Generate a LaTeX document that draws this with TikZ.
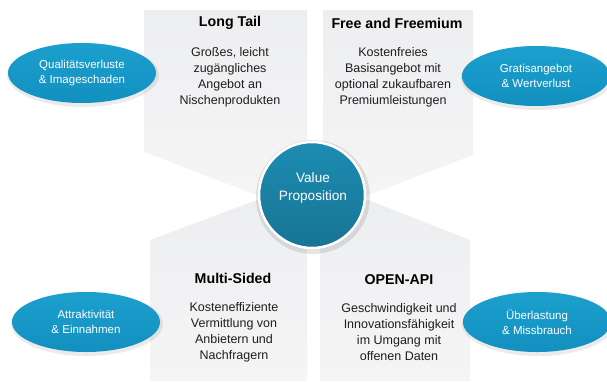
\documentclass[tikz,border=0pt]{standalone}
\usepackage{fontspec}
\setmainfont{Liberation Sans}
\usetikzlibrary{shapes.geometric}
\definecolor{panelTop}{RGB}{237,238,240}
\definecolor{panelBot}{RGB}{245,245,246}
\definecolor{ellTop}{RGB}{28,160,206}
\definecolor{ellBot}{RGB}{18,144,192}
\definecolor{circTop}{RGB}{28,140,178}
\definecolor{circBot}{RGB}{24,116,148}
\definecolor{bodyText}{RGB}{30,30,30}
\tikzset{
  panel/.style={top color=panelTop, bottom color=panelBot, draw=none},
  riskell/.style={ellipse, minimum width=148pt, minimum height=60pt, inner sep=0pt,
    top color=ellTop, bottom color=ellBot, draw=none, text=white, align=center,
    font=\fontsize{11.5}{15}\selectfont},
  glow/.style={ellipse, minimum width=152pt, minimum height=64pt, fill=black, opacity=0.08, draw=none},
  ptitle/.style={font=\fontsize{14.2}{17}\selectfont\bfseries, text=black},
  pbody/.style={align=center, font=\fontsize{12.5}{16}\selectfont, text=bodyText},
  core/.style={circle, minimum size=106pt, inner sep=0pt, top color=circTop, bottom color=circBot,
    draw=white, line width=2.5pt},
  coretext/.style={text=white, align=center, font=\fontsize{13.6}{18}\selectfont}
}
\begin{document}
\begin{tikzpicture}[x=1pt,y=-1pt]
\useasboundingbox[fill=white] (0,0) rectangle (607,381);
% panels
\path[panel] (144,10) -- (307,10) -- (307,195) -- (257,195) -- (144,152) -- cycle;
\path[panel] (323,10) -- (473,10) -- (473,155) -- (368,195) -- (323,195) -- cycle;
\path[panel] (150,240) -- (257,200) -- (307,200) -- (307,381) -- (150,381) -- cycle;
\path[panel] (320,200) -- (368,200) -- (470,240) -- (470,381) -- (320,381) -- cycle;
% panel texts
\node[ptitle] (t1) at (230,23) {Long Tail};
\node[pbody] (b1) at (230,77) {Großes, leicht\\zugängliches\\Angebot an\\Nischenprodukten};
\node[ptitle] (t2) at (397,23) {Free and Freemium};
\node[pbody] (b2) at (393,77) {Kostenfreies\\Basisangebot mit\\optional zukaufbaren\\Premiumleistungen};
\node[ptitle] (t3) at (233,278) {Multi-Sided};
\node[pbody] (b3) at (234,332) {Kosteneffiziente\\Vermittlung von\\Anbietern und\\Nachfragern};
\node[ptitle] (t4) at (399,280) {OPEN-API};
\node[pbody] (b4) at (399,332) {Geschwindigkeit und\\Innovationsfähigkeit\\im Umgang mit\\offenen Daten};
% core circle
\fill[black, opacity=0.10] (313,197) circle (57pt);
\node[core] (vp) at (312,195) {};
\node[coretext] (vpt) at (313,188) {Value\\Proposition};
% risk ellipses
\node[glow] at (83,75) {};
\node[riskell] (r1) at (82,73) {Qualitätsverluste\\\& Imageschaden};
\node[glow] at (537,78) {};
\node[riskell] (r2) at (536,76) {Gratisangebot\\\& Wertverlust};
\node[glow] at (87,324) {};
\node[riskell] (r3) at (86,322) {Attraktivität\\\& Einnahmen};
\node[glow] at (538,324) {};
\node[riskell] (r4) at (537,322) {Überlastung\\\& Missbrauch};
\end{tikzpicture}
\end{document}
